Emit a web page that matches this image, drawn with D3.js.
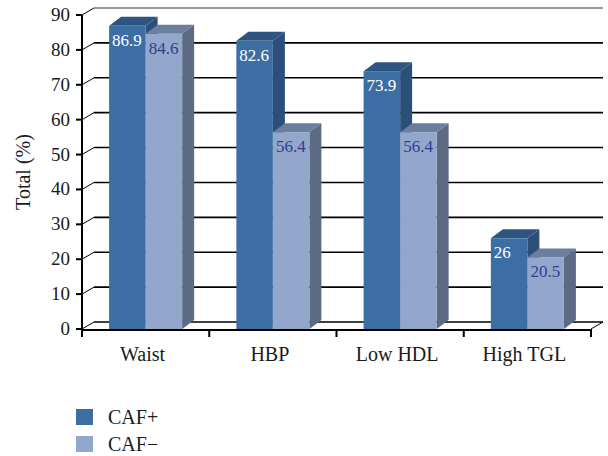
<!DOCTYPE html>
<html>
<head>
<meta charset="utf-8">
<script src="https://cdn.jsdelivr.net/npm/d3@7"></script>
<style>
  html, body { margin: 0; padding: 0; background: #fff; }
  svg { display: block; }
  text { font-family: "Liberation Serif", "DejaVu Serif", serif; }
</style>
</head>
<body>
<svg id="chart" width="608" height="456"></svg>
<script>
// Data
const categories = ["Waist", "HBP", "Low HDL", "High TGL"];
const seriesNames = ["CAF+", "CAF\u2212"];
const cafPlus = [86.9, 82.6, 73.9, 26];
const cafMinus = [84.6, 56.4, 56.4, 20.5];
const yTicks = [0, 10, 20, 30, 40, 50, 60, 70, 80, 90];

// Styling per series: front, top, side faces and label colour
const palette = [
  { front: "#3c6ea3", top: "#2e5482", side: "#2b4f78", label: "#ffffff" },
  { front: "#93a7cc", top: "#6b7e9f", side: "#5c6a84", label: "#2f3d8f" }
];

const svg = d3.select("#chart");
const plotLeft = 82, plotRight = 591, plotBottom = 329, plotTop = 15;
const dx = 12, dy = -7;        // depth offset of the back wall
const barDx = 12, barDy = -9;  // depth offset of the bar blocks

const y = d3.scaleLinear().domain([0, 90]).range([plotBottom, plotTop]);
const x0 = d3.scaleBand().domain(categories).range([plotLeft, plotRight])
  .paddingInner(0.426).paddingOuter(0.213);
const x1 = d3.scaleBand().domain(seriesNames).range([0, x0.bandwidth()]);

// Back-wall gridlines with the diagonal connectors to the axis
const grid = svg.append("g");
yTicks.forEach(t => {
  const yy = y(t);
  grid.append("line")
    .attr("x1", plotLeft).attr("y1", yy).attr("x2", plotLeft + dx).attr("y2", yy + dy)
    .attr("stroke", "#000").attr("stroke-width", 1);
  grid.append("line")
    .attr("x1", plotLeft + dx).attr("y1", yy + dy).attr("x2", plotRight + dx).attr("y2", yy + dy)
    .attr("stroke", t === 90 ? "#999" : "#000").attr("stroke-width", t === 90 ? 2 : 1.6);
});
// right edge of the floor
grid.append("line")
  .attr("x1", plotRight).attr("y1", plotBottom).attr("x2", plotRight + dx).attr("y2", plotBottom + dy)
  .attr("stroke", "#000").attr("stroke-width", 1);

// 3D bars
const series = [cafPlus, cafMinus];
const barsG = svg.append("g");
categories.forEach((c, ci) => {
  series.forEach((vals, si) => {
    const v = vals[ci];
    const col = palette[si];
    const xl = x0(c) + x1(seriesNames[si]);
    const w = x1.bandwidth();
    const yt = y(v), yb = y(0);
    const g = barsG.append("g");
    // side face
    g.append("path")
      .attr("d", `M${xl + w},${yt} L${xl + w + barDx},${yt + barDy} L${xl + w + barDx},${yb + barDy} L${xl + w},${yb} Z`)
      .attr("fill", col.side);
    // top face
    g.append("path")
      .attr("d", `M${xl},${yt} L${xl + barDx},${yt + barDy} L${xl + w + barDx},${yt + barDy} L${xl + w},${yt} Z`)
      .attr("fill", col.top);
    // front face
    g.append("rect")
      .attr("x", xl).attr("y", yt).attr("width", w).attr("height", yb - yt)
      .attr("fill", col.front);
    // value label
    g.append("text")
      .attr("x", xl + 3).attr("y", yt + 20)
      .attr("fill", col.label).attr("font-size", 17)
      .text(String(v));
  });
});

// Y axis
const yAxisG = svg.append("g");
yAxisG.append("line")
  .attr("x1", plotLeft).attr("y1", plotTop).attr("x2", plotLeft).attr("y2", plotBottom + 1)
  .attr("stroke", "#000").attr("stroke-width", 2);
yTicks.forEach(t => {
  yAxisG.append("line")
    .attr("x1", plotLeft - 6).attr("x2", plotLeft).attr("y1", y(t)).attr("y2", y(t))
    .attr("stroke", "#000").attr("stroke-width", 2);
  yAxisG.append("text")
    .attr("x", plotLeft - 12).attr("y", y(t) + 6)
    .attr("text-anchor", "end").attr("font-size", 19).attr("fill", "#1a1a1a")
    .text(t);
});
svg.append("text")
  .attr("transform", `translate(30,${(plotTop + plotBottom) / 2}) rotate(-90)`)
  .attr("text-anchor", "middle").attr("font-size", 20).attr("fill", "#1a1a1a")
  .text("Total (%)");

// X axis
const xAxisG = svg.append("g");
xAxisG.append("line")
  .attr("x1", plotLeft - 1).attr("y1", plotBottom + 1).attr("x2", plotRight).attr("y2", plotBottom + 1)
  .attr("stroke", "#000").attr("stroke-width", 2);
const step = x0.step();
d3.range(categories.length + 1).forEach(i => {
  const xx = plotLeft + i * step;
  xAxisG.append("line")
    .attr("x1", xx).attr("x2", xx).attr("y1", plotBottom).attr("y2", plotBottom + 8)
    .attr("stroke", "#000").attr("stroke-width", 2);
});
categories.forEach(c => {
  xAxisG.append("text")
    .attr("x", x0(c) + x0.bandwidth() / 2 - 3).attr("y", plotBottom + 32)
    .attr("text-anchor", "middle").attr("font-size", 20).attr("fill", "#1a1a1a")
    .text(c);
});

// Legend
const legend = svg.append("g");
seriesNames.forEach((s, i) => {
  legend.append("rect")
    .attr("x", 76).attr("y", 409 + i * 27).attr("width", 17).attr("height", 16)
    .attr("fill", palette[i].front);
  legend.append("text")
    .attr("x", 108).attr("y", 424 + i * 27)
    .attr("font-size", 20).attr("fill", "#1a1a1a")
    .text(s);
});
</script>
</body>
</html>
